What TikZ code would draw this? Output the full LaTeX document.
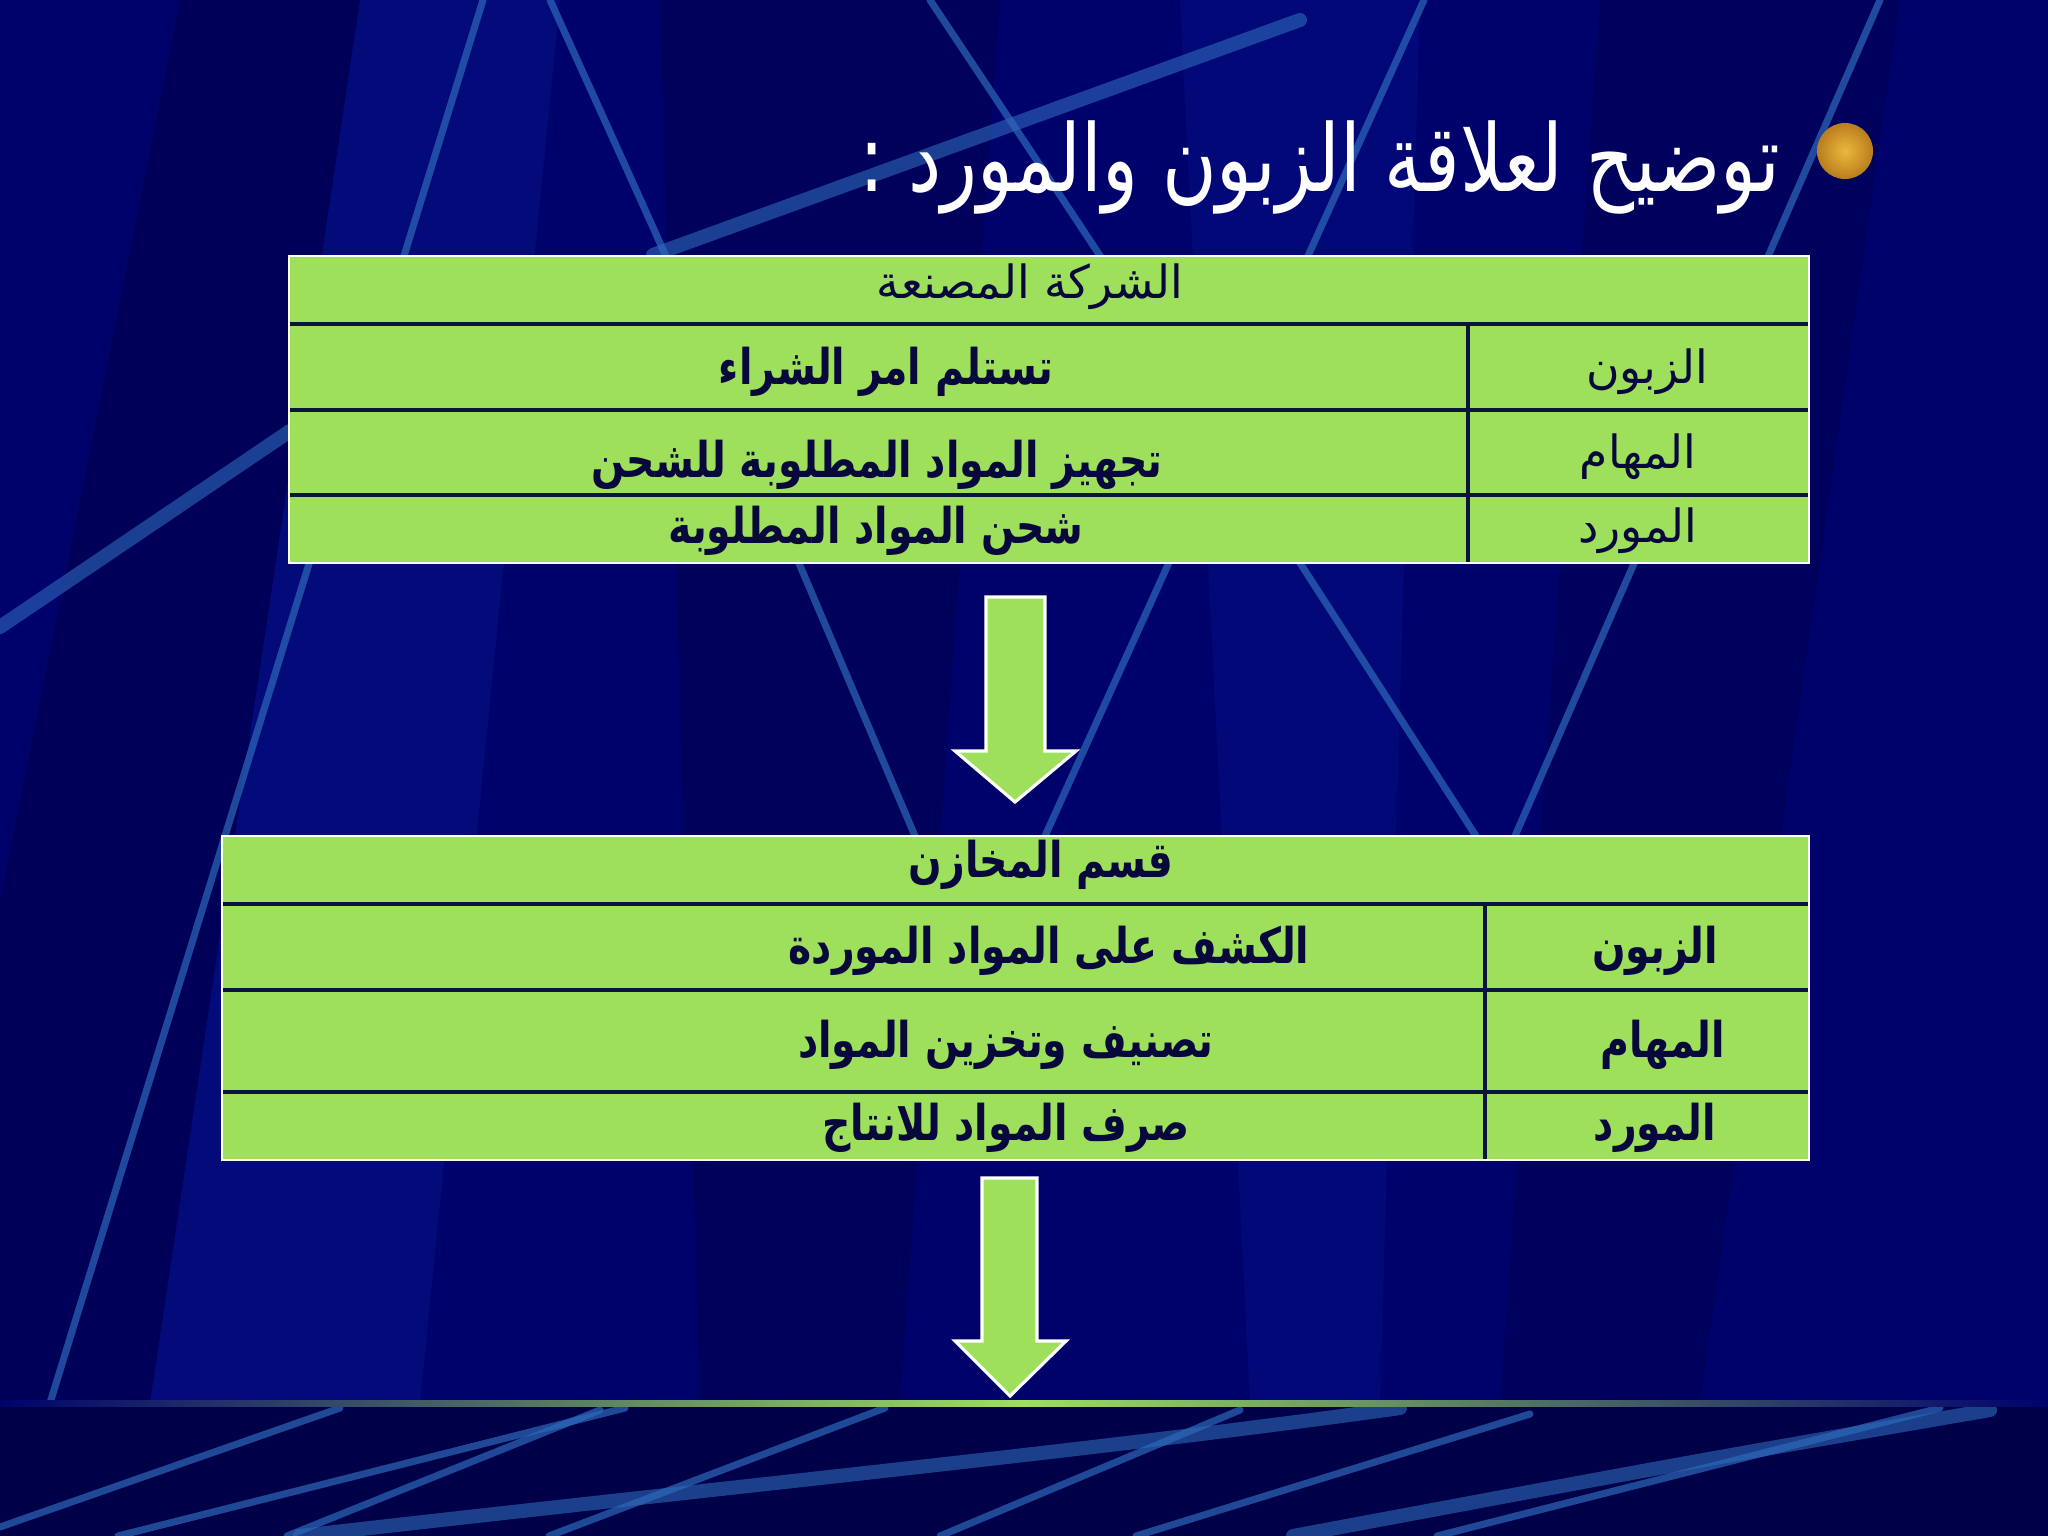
\documentclass[tikz,border=0pt]{standalone}
\usepackage{fontspec}
\TeXXeTstate=1
\newfontfamily\arabicfont[Script=Arabic]{DejaVu Sans}
\newcommand{\rtltext}[1]{\arabicfont\beginR #1\endR}
\definecolor{bgnavy}{RGB}{0,2,108}
\definecolor{bgpanel}{RGB}{8,20,140}
\definecolor{bgshade}{RGB}{0,0,70}
\definecolor{bgfloor}{RGB}{0,0,72}
\definecolor{streakblue}{RGB}{45,105,185}
\definecolor{cellgreen}{RGB}{158,224,92}
\definecolor{inkblue}{RGB}{8,8,60}
\definecolor{gridnavy}{RGB}{10,20,60}
\definecolor{goldlight}{RGB}{235,185,60}
\definecolor{golddark}{RGB}{185,125,30}

\tikzset{
  streak/.style={line width=2pt, draw=streakblue, opacity=0.7, line cap=round},
  widestreak/.style={line width=4pt, draw=streakblue, opacity=0.6, line cap=round},
  cellfill/.style={fill=cellgreen},
  rimline/.style={draw=white, line width=0.8pt},
  gridline/.style={draw=gridnavy, line width=0.9pt},
  arrowbox/.style={fill=cellgreen, draw=white, line width=0.9pt, line join=miter},
  cellhead/.style={text=inkblue, font=\arabicfont\fontsize{13}{15}\selectfont},
  cellbold/.style={text=inkblue, xscale=0.8, font=\arabicfont\bfseries\fontsize{14}{16}\selectfont},
  titletext/.style={text=white, xscale=0.8, font=\arabicfont\fontsize{26.5}{30}\selectfont, anchor=east}
}

\begin{document}
\begin{tikzpicture}[x=0.01cm,y=-0.01cm]
\useasboundingbox (0,0) rectangle (2048,1536);

% background panels
\fill[bgnavy] (0,0) rectangle (2048,1403);
\fill[bgshade, opacity=0.5] (180,0) -- (360,0) -- (150,1403) -- (0,1403) -- (0,900) -- cycle;
\fill[bgpanel, opacity=0.45] (360,0) -- (560,0) -- (420,1403) -- (150,1403) -- cycle;
\fill[bgshade, opacity=0.45] (660,0) -- (1000,0) -- (900,1403) -- (700,1403) -- cycle;
\fill[bgpanel, opacity=0.35] (1180,0) -- (1420,0) -- (1380,1403) -- (1250,1403) -- cycle;
\fill[bgshade, opacity=0.4] (1600,0) -- (1900,0) -- (1700,1403) -- (1500,1403) -- cycle;
\fill[bgfloor] (0,1403) rectangle (2048,1536);

% streaks
\draw[streak] (483,0) -- (50,1403);
\draw[streak] (550,0) .. controls (700,330) .. (915,836);
\draw[widestreak] (653,255) -- (1300,20);
\draw[streak] (930,0) .. controls (1150,330) .. (1476,836);
\draw[streak] (1424,0) -- (1045,836);
\draw[streak] (1880,0) -- (1515,836);
\draw[widestreak] (0,627) -- (290,431);
\draw[streak] (340,1408) -- (0,1527);
\draw[streak] (625,1408) -- (118,1536);
\draw[streak] (600,1410) -- (287,1536);
\draw[streak] (885,1408) -- (549,1536);
\draw[widestreak] (1400,1408) .. controls (1100,1450) and (700,1490) .. (300,1536);
\draw[streak] (1240,1410) -- (940,1536);
\draw[streak] (1530,1414) -- (1136,1536);
\draw[streak] (1940,1408) -- (1437,1536);
\draw[widestreak] (1990,1410) .. controls (1700,1460) .. (1293,1536);

% glowing floor line
\shade[left color=bgnavy, right color=bgnavy, middle color=cellgreen] (0,1400) rectangle (2048,1406);

% title
\shade[inner color=goldlight, outer color=golddark] (1845,151) circle (0.28cm);
\node[titletext] (title) at (1790,167) {\rtltext{توضيح لعلاقة الزبون والمورد :}};

% first table
\fill[cellfill] (289,256) rectangle (1809,563);
\draw[gridline] (289,324) -- (1809,324);
\draw[gridline] (289,410) -- (1809,410);
\draw[gridline] (289,495) -- (1809,495);
\draw[gridline] (1468,324) -- (1468,563);
\draw[rimline] (289,256) rectangle (1809,563);

\node[cellhead] (h1) at (1030,287) {\rtltext{الشركة المصنعة}};
\node[cellbold] (a1) at (886,372) {\rtltext{تستلم امر الشراء}};
\node[cellhead] (b1) at (1647,372) {\rtltext{الزبون}};
\node[cellbold] (a2) at (877,465) {\rtltext{تجهيز المواد المطلوبة للشحن}};
\node[cellhead] (b2) at (1638,457) {\rtltext{المهام}};
\node[cellbold] (a3) at (876,531) {\rtltext{شحن المواد المطلوبة}};
\node[cellhead] (b3) at (1638,531) {\rtltext{المورد}};

% block arrows
\filldraw[arrowbox] (986,597) -- (1045,597) -- (1045,751) -- (1076,751) -- (1015,802) -- (955,751) -- (986,751) -- cycle;
\filldraw[arrowbox] (982,1178) -- (1037,1178) -- (1037,1341) -- (1066,1341) -- (1010,1396) -- (955,1341) -- (982,1341) -- cycle;

% second table
\fill[cellfill] (222,836) rectangle (1809,1160);
\draw[gridline] (222,904) -- (1809,904);
\draw[gridline] (222,990) -- (1809,990);
\draw[gridline] (222,1092) -- (1809,1092);
\draw[gridline] (1485,904) -- (1485,1160);
\draw[rimline] (222,836) rectangle (1809,1160);

\node[cellbold] (h2) at (1041,865) {\rtltext{قسم المخازن}};
\node[cellbold] (c1) at (1049,951) {\rtltext{الكشف على المواد الموردة}};
\node[cellbold] (d1) at (1655,951) {\rtltext{الزبون}};
\node[cellbold] (c2) at (1006,1045) {\rtltext{تصنيف وتخزين المواد}};
\node[cellbold] (d2) at (1663,1045) {\rtltext{المهام}};
\node[cellbold] (c3) at (1006,1128) {\rtltext{صرف المواد للانتاج}};
\node[cellbold] (d3) at (1655,1128) {\rtltext{المورد}};
\end{tikzpicture}
\end{document}
